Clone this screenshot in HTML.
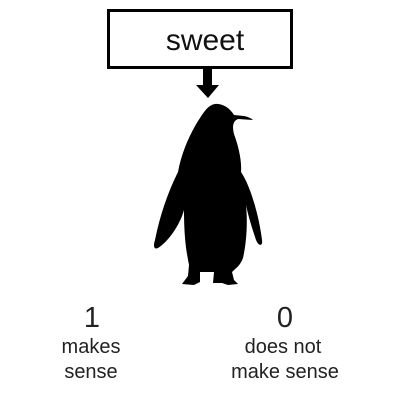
<!DOCTYPE html>
<html><head><style>
body{margin:0;background:#fff;width:400px;height:400px;overflow:hidden}
</style></head><body>
<svg width="400" height="400" viewBox="0 0 400 400" xmlns="http://www.w3.org/2000/svg" font-family="Liberation Sans, sans-serif">
<rect x="108.5" y="10.5" width="183" height="57" fill="#fff" stroke="#000" stroke-width="3"/>
<text x="205" y="50" font-size="30" text-anchor="middle" fill="#111">sweet</text>
<rect x="203" y="68" width="9" height="18" fill="#000"/>
<polygon points="196,85 219,85 208,98" fill="#000"/>
<path fill="#000" d="M215,104 C222,103 230,108 234,115 L244,116 C249,117 252,119 253,120 L238,119 C233,121 232,126 234,134 C238,145 242,160 241,172 C250,185 259,215 262,240 C263,246 259,247 256,240 C252,228 248,215 246,205 C248,225 246,245 243,258 C240,266 236,268 232,272 L234,280 L238,284 L228,285 L222,283 L213,283 L214,272 L200,272 L200,282 L194,285 L182,284 L188,276 L189,265 C186,250 184,235 184,210 C180,225 168,242 158,248 C154,250 153,246 155,240 C160,215 168,192 178,172 C182,150 192,130 200,118 C205,110 209,105 215,104 Z"/>
<g fill="#222" text-anchor="middle">
<text x="92" y="327" font-size="29">1</text>
<text x="91" y="353" font-size="20">makes</text>
<text x="91" y="378" font-size="20">sense</text>
<text x="285" y="327" font-size="29">0</text>
<text x="283" y="353" font-size="20">does not</text>
<text x="285" y="378" font-size="20">make sense</text>
</g>
</svg>
</body></html>
